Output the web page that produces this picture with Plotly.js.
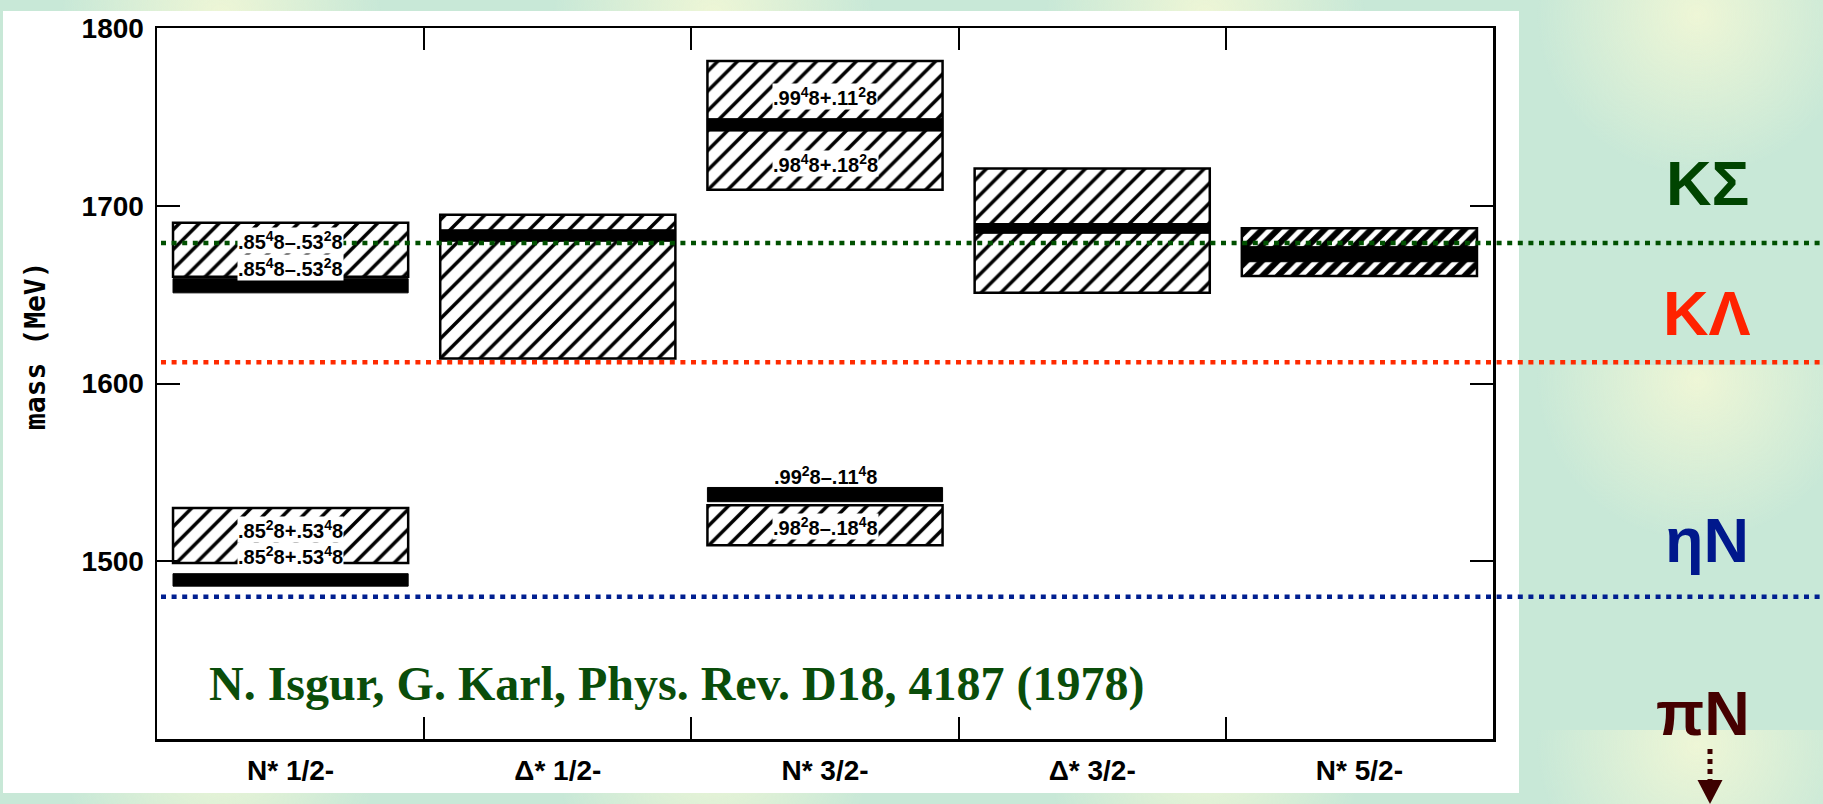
<!DOCTYPE html>
<html>
<head>
<meta charset="utf-8">
<script src="https://cdn.plot.ly/plotly-3.0.1.min.js"></script>
<style>
  html, body { margin: 0; padding: 0; }
  body {
    width: 1823px; height: 804px; overflow: hidden;
    background-color: #c8e8d7;
    background-image: radial-gradient(circle at 50% 15px, #eef6d6 0px, rgba(200,232,215,0) 160px);
    background-size: 492px 365px;
    background-position: -25px 0px;
  }
  #chart { width: 1823px; height: 804px; }
</style>
</head>
<body>
<div id="chart"></div>
<script>
// ---- data ----
const categories = ['N* 1/2-', 'Δ* 1/2-', 'N* 3/2-', 'Δ* 3/2-', 'N* 5/2-'];

// hatched (range) boxes: category index, lower and upper mass (MeV)
const hatchCat  = [0, 0, 1, 2, 2, 3, 4];
const hatchLow  = [1660, 1499, 1614, 1709, 1509, 1651, 1660.5];
const hatchHigh = [1690.5, 1530, 1695, 1781.5, 1531.5, 1721, 1687.3];

// solid black bands (model predictions)
const bandCat  = [0, 0, 1, 2, 2, 3, 4];
const bandLow  = [1651, 1486, 1680, 1742, 1533.5, 1684.5, 1668.5];
const bandHigh = [1659, 1493, 1686.5, 1749, 1541.5, 1690, 1677];

// mixing labels
const labelCat  = [0, 0, 0, 0, 2, 2, 2, 2];
const labelMass = [1680.7, 1665.5, 1517.6, 1503.5, 1761.4, 1723.9, 1548, 1519.4];
const labelText = [
  '.85<sup>4</sup>8–.53<sup>2</sup>8',
  '.85<sup>4</sup>8–.53<sup>2</sup>8',
  '.85<sup>2</sup>8+.53<sup>4</sup>8',
  '.85<sup>2</sup>8+.53<sup>4</sup>8',
  '.99<sup>4</sup>8+.11<sup>2</sup>8',
  '.98<sup>4</sup>8+.18<sup>2</sup>8',
  '.99<sup>2</sup>8–.11<sup>4</sup>8',
  '.98<sup>2</sup>8–.18<sup>4</sup>8'
];

// thresholds (MeV)
const thresholdNames  = ['KΣ', 'KΛ', 'ηN'];
const thresholdMass   = [1679, 1612, 1480];
const thresholdColors = ['#005000', '#ff2a00', '#001f90'];
const labelColors     = ['#004400', '#ff2200', '#00188c'];

const yRange = [1400, 1800];
const yTicks = [1500, 1600, 1700, 1800];

// ---- traces ----
const hatchTrace = {
  type: 'bar',
  x: hatchCat.map(i => categories[i]),
  base: hatchLow,
  y: hatchHigh.map((h, i) => h - hatchLow[i]),
  width: 0.88,
  marker: {
    color: 'white',
    line: { color: 'black', width: 2.5 },
    pattern: {
      shape: '/', fgcolor: 'black', fgopacity: 1, bgcolor: 'white', fillmode: 'overlay',
      size: hatchCat.map(i => i === 4 ? 11 : 14),
      solidity: hatchCat.map(i => i === 4 ? 0.55 : 0.25)
    }
  },
  hoverinfo: 'skip', showlegend: false
};

const bandTrace = {
  type: 'bar',
  x: bandCat.map(i => categories[i]),
  base: bandLow,
  y: bandHigh.map((h, i) => h - bandLow[i]),
  width: 0.88,
  marker: { color: 'black', line: { color: 'black', width: 1 } },
  hoverinfo: 'skip', showlegend: false
};

// ---- geometry helpers (plot area: paper 0..1) ----
const plotL = 157, plotR = 1493, plotT = 28, plotB = 739;
const W = 1823, H = 804;
const pw = plotR - plotL, ph = plotB - plotT;
const px = x => (x - plotL) / pw;
const py = y => (plotB - y) / ph;
const massToPaper = m => (m - yRange[0]) / (yRange[1] - yRange[0]);

const shapes = [];
// white panel behind the scanned figure
shapes.push({
  type: 'rect', xref: 'paper', yref: 'paper', layer: 'below',
  x0: px(3), x1: px(1519), y0: py(793), y1: py(11),
  fillcolor: 'white', line: { width: 0 }
});
// threshold dotted lines
thresholdMass.forEach((m, i) => {
  shapes.push({
    type: 'line', xref: 'paper', yref: 'paper', layer: 'above',
    x0: px(161), x1: px(W), y0: massToPaper(m), y1: massToPaper(m),
    line: { color: thresholdColors[i], width: 4.5, dash: '5px,5.6px' }
  });
});
// piN arrow (dotted shaft + head)
const arrowX = 1710;
shapes.push({
  type: 'line', xref: 'paper', yref: 'paper',
  x0: px(arrowX), x1: px(arrowX), y0: py(749), y1: py(786),
  line: { color: '#3d0000', width: 5, dash: '5px,5px' }
});
shapes.push({
  type: 'path', xref: 'paper', yref: 'paper',
  path: 'M' + px(arrowX - 12.5) + ',' + py(780) + ' L' + px(arrowX + 12.5) + ',' + py(780) +
        ' L' + px(arrowX) + ',' + py(804) + ' Z',
  fillcolor: '#3d0000', line: { width: 0 }
});

const annotations = [];
labelText.forEach((t, i) => {
  annotations.push({
    x: categories[labelCat[i]], y: labelMass[i], xref: 'x', yref: 'y',
    xanchor: 'center', yanchor: 'middle',
    text: t, showarrow: false,
    font: { family: 'Liberation Sans, Arial, sans-serif', size: 20, color: 'black', weight: 'bold' },
    bgcolor: i === 6 ? 'rgba(0,0,0,0)' : 'white', borderpad: 0
  });
});
// y axis title
annotations.push({
  xref: 'paper', yref: 'paper', x: px(35), y: py(346),
  xanchor: 'center', yanchor: 'middle',
  text: 'mass (MeV)', textangle: -90, showarrow: false,
  font: { family: 'DejaVu Sans Mono, monospace', size: 28, color: 'black', weight: 'bold' }
});
// citation
annotations.push({
  xref: 'paper', yref: 'paper', x: px(207), y: py(684),
  xanchor: 'left', yanchor: 'middle',
  text: 'N. Isgur, G. Karl, Phys. Rev. D18, 4187 (1978)', showarrow: false,
  font: { family: 'Liberation Serif, Times New Roman, serif', size: 48, color: '#0a4d0a', weight: 'bold' }
});
// threshold labels on the right
const thrLabelY = [183, 313, 540];
thresholdNames.forEach((n, i) => {
  annotations.push({
    xref: 'paper', yref: 'paper', x: px(1707), y: py(thrLabelY[i]),
    xanchor: 'center', yanchor: 'middle',
    text: n, showarrow: false,
    font: { family: 'Liberation Sans, Arial, sans-serif', size: 63, color: labelColors[i], weight: 'bold' }
  });
});
annotations.push({
  xref: 'paper', yref: 'paper', x: px(1703), y: py(713),
  xanchor: 'center', yanchor: 'middle',
  text: 'πN', showarrow: false,
  font: { family: 'Liberation Sans, Arial, sans-serif', size: 63, color: '#450000', weight: 'bold' }
});

const layout = {
  width: W, height: H,
  margin: { l: plotL, r: W - plotR, t: plotT, b: H - plotB, pad: 0 },
  paper_bgcolor: 'rgba(0,0,0,0)',
  plot_bgcolor: 'white',
  barmode: 'overlay',
  showlegend: false,
  xaxis: {
    type: 'category', categoryorder: 'array', categoryarray: categories,
    range: [-0.5, 4.5],
    showline: true, linecolor: 'black', linewidth: 2.5, mirror: 'ticks',
    ticks: 'inside', ticklen: 22, tickwidth: 2, tickcolor: 'black',
    tickson: 'boundaries', showgrid: false, zeroline: false,
    ticklabelstandoff: 5,
    tickfont: { family: 'Liberation Sans, Arial, sans-serif', size: 28, color: 'black', weight: 'bold' },
    fixedrange: true
  },
  yaxis: {
    range: yRange, tickvals: yTicks, ticktext: yTicks.map(String),
    showline: true, linecolor: 'black', linewidth: 2.5, mirror: 'ticks',
    ticks: 'inside', ticklen: 23, tickwidth: 2, tickcolor: 'black',
    showgrid: false, zeroline: false,
    ticklabelstandoff: 5,
    tickfont: { family: 'Liberation Sans, Arial, sans-serif', size: 28, color: 'black', weight: 'bold' },
    fixedrange: true
  },
  shapes: shapes,
  annotations: annotations
};

Plotly.newPlot('chart', [hatchTrace, bandTrace], layout, { staticPlot: true, displayModeBar: false });
</script>
</body>
</html>
